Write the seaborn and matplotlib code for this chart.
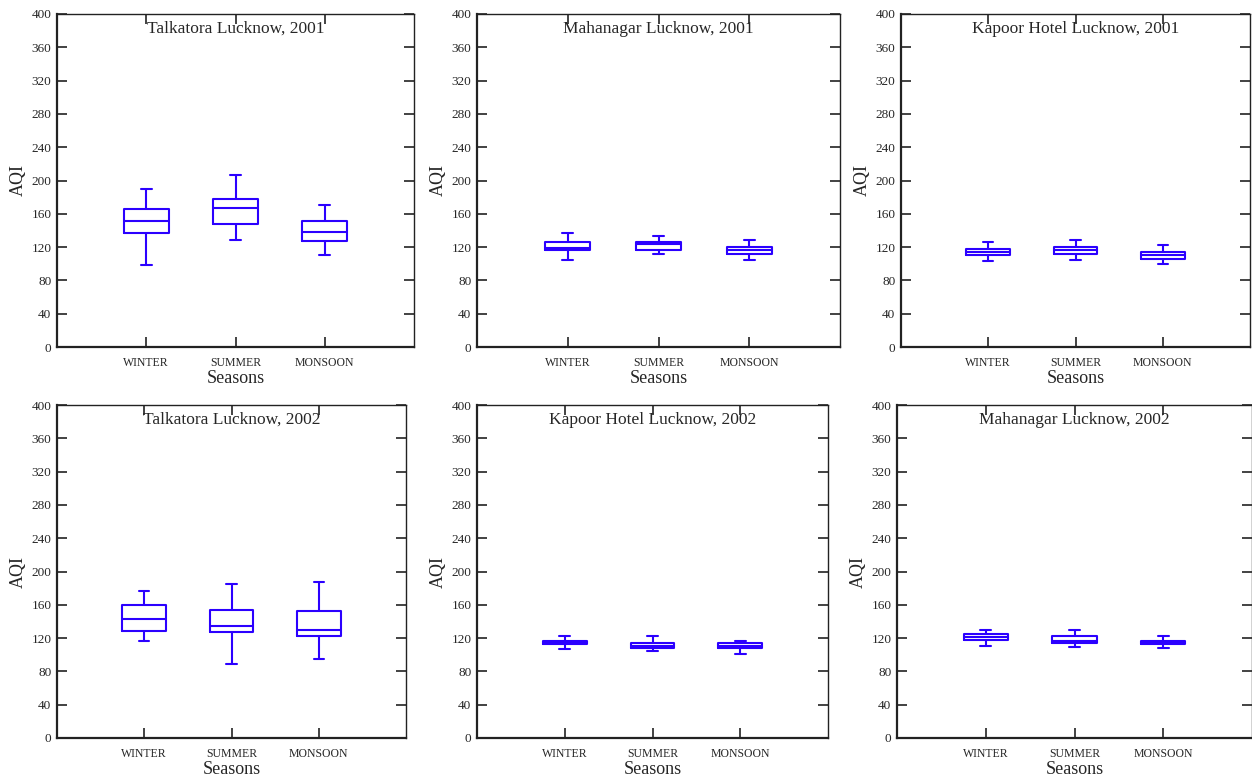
import numpy as np
import pandas as pd
import matplotlib
matplotlib.use("Agg")
import matplotlib.pyplot as plt
import seaborn as sns

# five-number summaries: [min, Q1, median, Q3, max]
seasons = ["WINTER", "SUMMER", "MONSOON"]

titles = [
    "Talkatora Lucknow, 2001",
    "Mahanagar Lucknow, 2001",
    "Kapoor Hotel Lucknow, 2001",
    "Talkatora Lucknow, 2002",
    "Kapoor Hotel Lucknow, 2002",
    "Mahanagar Lucknow, 2002",
]

talkatora_2001 = [[99, 137, 151, 166, 190], [129, 148, 167, 178, 207], [111, 127, 138, 151, 170]]
mahanagar_2001 = [[105, 116, 119, 126, 137], [112, 117, 124, 126, 133], [105, 112, 116, 120, 129]]
kapoor_2001 = [[103, 111, 114, 118, 126], [104, 112, 116, 120, 129], [100, 106, 111, 114, 122]]
talkatora_2002 = [[116, 129, 143, 160, 176], [89, 127, 135, 154, 185], [95, 122, 130, 152, 187]]
kapoor_2002 = [[107, 113, 115, 117, 123], [104, 108, 111, 114, 122], [101, 108, 111, 114, 116]]
mahanagar_2002 = [[110, 118, 121, 125, 130], [109, 114, 116, 122, 130], [108, 113, 115, 117, 122]]

panels = [talkatora_2001, mahanagar_2001, kapoor_2001,
          talkatora_2002, kapoor_2002, mahanagar_2002]

y_ticks = list(range(0, 401, 40))

# axes rectangles in pixels: left, right, top, bottom
W, H = 1252, 778
boxes_px = [
    (57, 414, 14, 347), (477, 840, 14, 347), (901, 1250, 14, 347),
    (57, 406, 405, 738), (477, 828, 405, 738), (897, 1252, 405, 738),
]

blue = "#2b00ff"
dark = "#222222"

sns.set_style("white")
plt.rcParams["font.family"] = ["Liberation Serif", "DejaVu Serif"]

fig = plt.figure(figsize=(12.52, 7.78), dpi=100)

for i, (data, title) in enumerate(zip(panels, titles)):
    l, r, t, b = boxes_px[i]
    ax = fig.add_axes([l / W, 1 - b / H, (r - l) / W, (b - t) / H])

    df = pd.DataFrame({
        "season": np.repeat(seasons, 5),
        "aqi": np.concatenate(data),
    })
    sns.boxplot(data=df, x="season", y="aqi", order=seasons, whis=(0, 100),
                width=0.5, fill=False, color=blue, linewidth=1.5, ax=ax)

    # short caps like the original
    for c in ax.containers:
        for cap in c.caps:
            xs = cap.get_xdata()
            mid = np.mean(xs)
            cap.set_xdata([mid - 0.06, mid + 0.06])

    ax.set_xlim(-1, 3)
    ax.set_ylim(0, 400)
    ax.set_yticks(y_ticks)
    ax.set_xlabel("Seasons", fontsize=13, labelpad=1)
    ax.set_ylabel("AQI", fontsize=13, labelpad=3)
    ax.tick_params(axis="x", direction="in", length=7, width=1.2, top=True,
                   bottom=True, labelsize=8.5, pad=7, color=dark)
    ax.tick_params(axis="y", direction="in", length=7, width=1.2, left=True,
                   right=True, labelsize=9.5, pad=4, color=dark)
    for lab in ax.get_xticklabels():
        lab.set_fontstretch("condensed")
    for side, sp in ax.spines.items():
        sp.set_color(dark)
        sp.set_linewidth(1.6 if side in ("left", "bottom") else 1.0)
    ax.text(0.5, 0.955, title, transform=ax.transAxes, ha="center", va="center",
            fontsize=12.5)

fig.savefig("out.png", dpi=100)
